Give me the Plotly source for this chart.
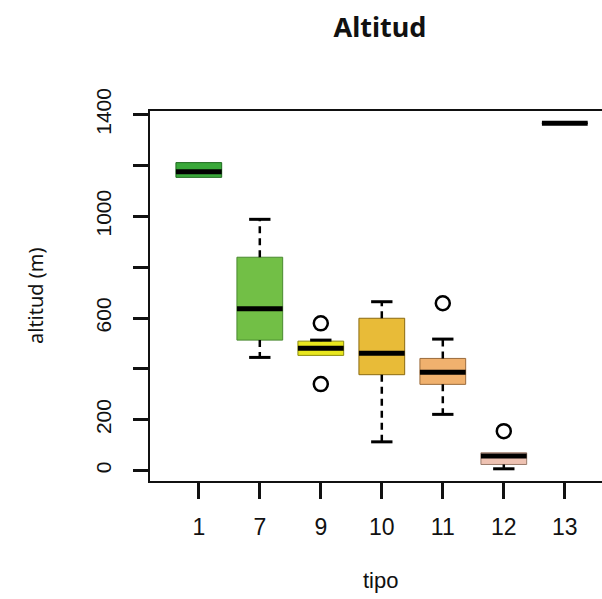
import plotly.graph_objects as go

# ---- data ----
tipos = ["1", "7", "9", "10", "11", "12", "13"]
q1 = [1153, 513, 453, 377, 339, 24, 1366]
medians = [1175, 636, 481, 461, 387, 57, 1366]
q3 = [1211, 839, 509, 599, 441, 70, 1366]
lower_whisker = [1153, 445, 453, 113, 221, 7, 1366]
upper_whisker = [1211, 988, 513, 664, 517, 70, 1366]
outlier_tipo = ["9", "9", "11", "12"]
outlier_vals = [579, 340, 658, 155]
fill_colors = ["#3aa83a", "#72bf46", "#e8e61e", "#e8bb38", "#f0b16e", "#eec2b2", "#888888"]
line_colors = ["#1f6a1f", "#4a8a30", "#8a8a10", "#8a6a10", "#9a6a3a", "#9a7a6a", "#222222"]

BOX_W = 0.75
CAP_HALF = 0.175

pos = list(range(len(tipos)))
idx = {t: i for i, t in enumerate(tipos)}

fig = go.Figure()

# boxes
for i in pos:
    fig.add_trace(go.Box(x=[i], q1=[q1[i]], median=[medians[i]], q3=[q3[i]],
                         lowerfence=[q1[i]], upperfence=[q3[i]],
                         width=BOX_W, fillcolor=fill_colors[i],
                         line=dict(color=line_colors[i], width=1),
                         whiskerwidth=0, showlegend=False, boxpoints=False))

# whiskers (dashed) and caps, only where the whisker extends past the box
for i in pos:
    for a, b in ((q3[i], upper_whisker[i]), (q1[i], lower_whisker[i])):
        if a != b:
            fig.add_trace(go.Scatter(x=[i, i], y=[a, b], mode="lines",
                                     line=dict(color="black", width=2.5, dash="7px,5px"),
                                     showlegend=False, hoverinfo="skip"))
            fig.add_trace(go.Scatter(x=[i - CAP_HALF, i + CAP_HALF], y=[b, b], mode="lines",
                                     line=dict(color="black", width=3),
                                     showlegend=False, hoverinfo="skip"))

# medians
for i in pos:
    fig.add_trace(go.Scatter(x=[i - BOX_W / 2, i + BOX_W / 2], y=[medians[i], medians[i]],
                             mode="lines", line=dict(color="black", width=5),
                             showlegend=False, hoverinfo="skip"))

# outliers
fig.add_trace(go.Scatter(x=[idx[t] for t in outlier_tipo], y=outlier_vals, mode="markers",
                         marker=dict(symbol="circle-open", size=14, color="black",
                                     line=dict(width=2.5, color="black")),
                         showlegend=False))

W, H = 602, 599
L, R, T, B = 150, 0, 111, 118
pw = W - L - R
ph = H - T - B

fig.update_layout(
    width=W, height=H,
    margin=dict(l=L, r=R, t=T, b=B),
    paper_bgcolor="white", plot_bgcolor="white",
    showlegend=False,
    title=dict(text="<b>Altitud</b>", x=380 / W, xref="container", xanchor="center",
               y=1 - 28 / H, yref="container", yanchor="middle",
               font=dict(family="Noto Sans", size=27, color="#111111")),
    font=dict(family="Liberation Sans", color="#111111"),
)

fig.update_xaxes(
    range=[-0.8, pw / 61 - 0.8], tickmode="array", tickvals=pos, ticktext=tipos,
    showgrid=False, zeroline=False, showline=True, linecolor="#111111", linewidth=2,
    mirror=True, ticks="outside", ticklen=16, tickwidth=3, tickcolor="#111111",
    tickfont=dict(size=23, family="Liberation Sans"), ticklabelstandoff=8,
)

ytv = [0, 200, 400, 600, 800, 1000, 1200, 1400]
ytt = ["0", "200", "", "600", "", "1000", "", "1400"]
fig.update_yaxes(
    range=[-41, 1414], tickmode="array", tickvals=ytv, ticktext=ytt,
    showgrid=False, zeroline=False, showline=True, linecolor="#111111", linewidth=2,
    ticks="outside", ticklen=15, tickwidth=3, tickcolor="#111111", tickangle=-90,
    tickfont=dict(size=21, family="Liberation Sans"), ticklabelstandoff=14,
)

fig.add_annotation(text="altitud (m)", xref="paper", yref="paper",
                   x=(35 - L) / pw, y=0.5, xanchor="center", yanchor="middle",
                   textangle=-90, showarrow=False,
                   font=dict(size=20, family="Noto Sans", color="#111111"))
fig.add_annotation(text="tipo", xref="paper", yref="paper",
                   x=(380 - L) / pw, y=(ph - (580 - T)) / ph, xanchor="center", yanchor="middle",
                   showarrow=False,
                   font=dict(size=22, family="Liberation Sans", color="#111111"))

fig.write_html("out.html")
